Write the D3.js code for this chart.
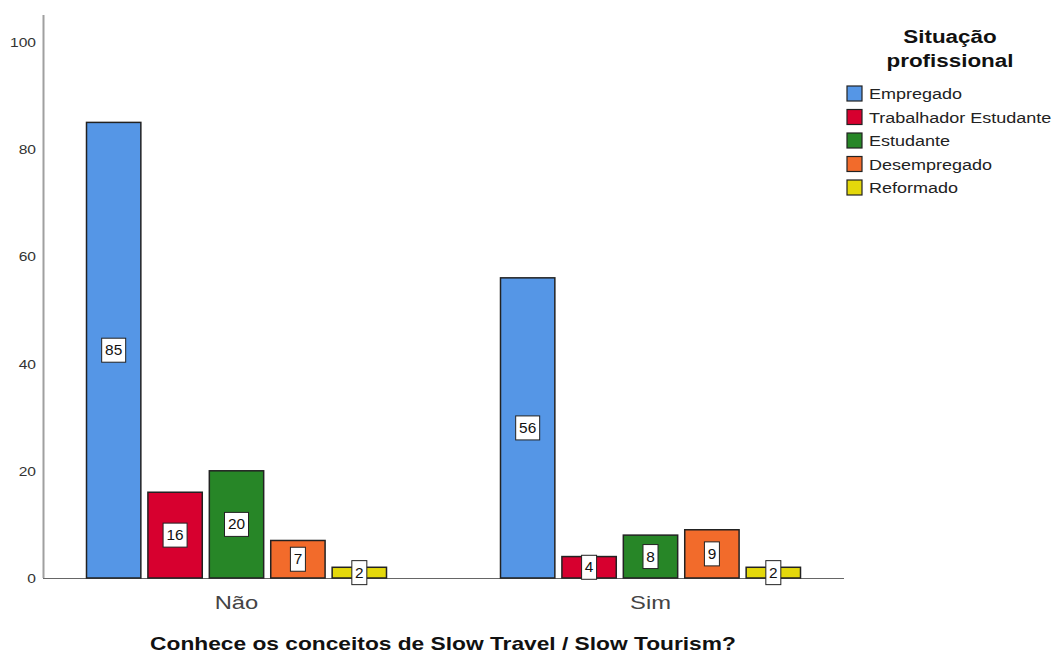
<!DOCTYPE html>
<html><head><meta charset="utf-8">
<script src="https://cdn.jsdelivr.net/npm/d3@7"></script>
<style>body{margin:0;background:#fff;font-family:Arial,"Liberation Sans",sans-serif}</style>
</head><body><svg id="c" width="1054" height="654"></svg>
<script>
const categories = ["Não", "Sim"];
const seriesNames = ["Empregado", "Trabalhador Estudante", "Estudante", "Desempregado", "Reformado"];
const valuesNao = [85, 16, 20, 7, 2];
const valuesSim = [56, 4, 8, 9, 2];
const colors = ["#5596e6", "#d7002f", "#278627", "#f26b2b", "#e4d80b"];
const yTicks = [0, 20, 40, 60, 80, 100];
const xTitle = "Conhece os conceitos de Slow Travel / Slow Tourism?";
const legendTitle = ["Situação", "profissional"];

const data = [valuesNao, valuesSim];
const svg = d3.select("#c");
const y = d3.scaleLinear().domain([0, 100]).range([578, 42]);
const x0 = d3.scaleBand().domain(categories).range([29.5, 857.5]);
const x1 = d3.scaleBand().domain(seriesNames).range([-150, 150]).paddingInner(0.115).paddingOuter(0);

// text helper with horizontal stretch
function stext(sel, x, yy, sx) {
  return sel.append("text").attr("transform", `translate(${x},${yy}) scale(${sx},1)`);
}

// axes
svg.append("line").attr("x1", 43.5).attr("x2", 43.5).attr("y1", 15).attr("y2", 578).attr("stroke", "#a0a0a0").attr("stroke-width", 2);
svg.append("line").attr("x1", 43).attr("x2", 844).attr("y1", 578.5).attr("y2", 578.5).attr("stroke", "#666").attr("stroke-width", 1);
yTicks.forEach(t => {
  stext(svg, 36, y(t) + 5, 1.2).attr("text-anchor", "end").attr("font-size", 13).attr("fill", "#333").text(t);
});
categories.forEach(c => {
  stext(svg, x0(c) + x0.bandwidth() / 2, 609, 1.25).attr("text-anchor", "middle").attr("font-size", 19).attr("fill", "#444").text(c);
});
stext(svg, 443, 650, 1.3).attr("text-anchor", "middle").attr("font-size", 17.5)
  .attr("font-weight", "bold").attr("fill", "#111").text(xTitle);

// bars
categories.forEach((cat, ci) => {
  const cx = x0(cat) + x0.bandwidth() / 2;
  const g = svg.append("g").attr("transform", `translate(${cx},0)`);
  seriesNames.forEach((s, si) => {
    const v = data[ci][si];
    g.append("rect").attr("x", x1(s)).attr("width", x1.bandwidth()).attr("y", y(v)).attr("height", y(0) - y(v))
      .attr("fill", colors[si]).attr("stroke", "#222").attr("stroke-width", 1.5);
  });
  seriesNames.forEach((s, si) => {
    const v = data[ci][si];
    const mx = x1(s) + x1.bandwidth() / 2;
    const my = (y(v) + y(0)) / 2;
    const t = String(v);
    const w = t.length * 9 + 6;
    g.append("rect").attr("x", mx - w / 2).attr("y", my - 12).attr("width", w).attr("height", 24)
      .attr("fill", "#fff").attr("stroke", "#222").attr("stroke-width", 1);
    stext(g, mx, my + 5, 1.1).attr("text-anchor", "middle").attr("font-size", 14).attr("fill", "#111").text(t);
  });
});

// legend
legendTitle.forEach((d, i) => {
  stext(svg, 950, 43 + i * 24, 1.18).attr("text-anchor", "middle").attr("font-size", 19).attr("font-weight", "bold").attr("fill", "#111").text(d);
});
seriesNames.forEach((d, i) => {
  const g = svg.append("g").attr("transform", `translate(847,${86 + i * 23.5})`);
  g.append("rect").attr("width", 15).attr("height", 15).attr("fill", colors[i]).attr("stroke", "#222").attr("stroke-width", 1.2);
  stext(g, 22, 13, 1.2).attr("font-size", 15).attr("fill", "#222").text(d);
});
</script></body></html>
